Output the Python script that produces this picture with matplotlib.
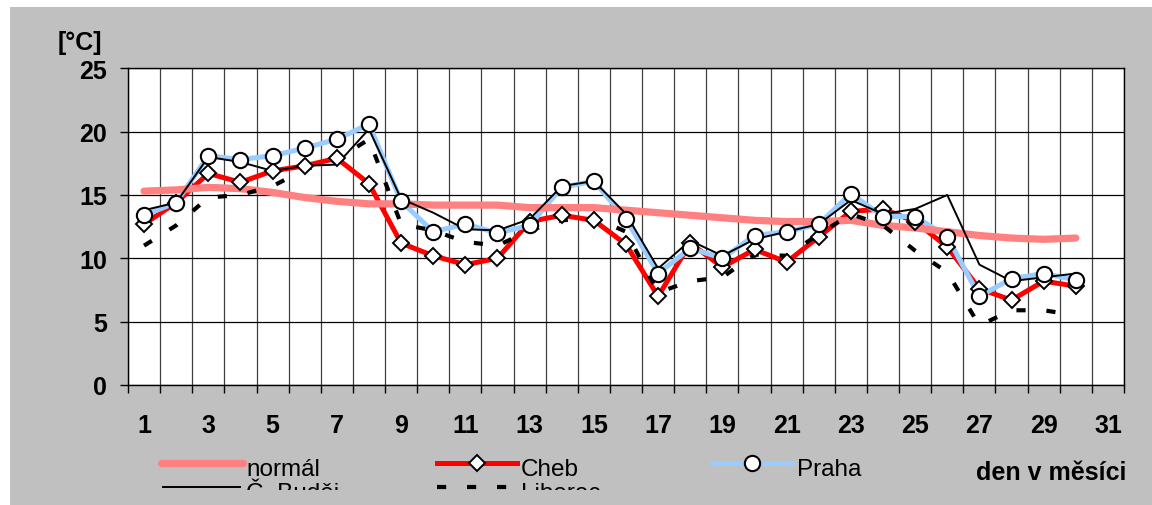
import matplotlib
matplotlib.use("Agg")
import matplotlib.pyplot as plt
from matplotlib.patches import Rectangle
from matplotlib.lines import Line2D

plt.rcParams['font.family'] = ['Liberation Sans', 'DejaVu Sans']

# ---------------- data ----------------
days = list(range(1, 31))
normal = [15.3, 15.4, 15.6, 15.5, 15.2, 14.8, 14.5, 14.3, 14.3, 14.2, 14.2, 14.2, 14.0, 14.0, 14.0,
          13.8, 13.6, 13.4, 13.2, 13.0, 12.9, 12.9, 13.0, 12.6, 12.4, 12.1, 11.8, 11.6, 11.5, 11.6]
cheb = [12.7, 14.4, 16.7, 16.0, 16.9, 17.3, 17.9, 15.9, 11.2, 10.2, 9.5, 10.0, 12.9, 13.4, 13.0,
        11.1, 7.0, 11.2, 9.3, 10.7, 9.7, 11.7, 13.7, 13.9, 12.9, 10.9, 7.6, 6.7, 8.2, 7.8]
praha = [13.4, 14.4, 18.1, 17.8, 18.1, 18.7, 19.4, 20.6, 14.5, 12.1, 12.7, 12.0, 12.6, 15.6, 16.1,
         13.1, 8.8, 10.8, 10.0, 11.8, 12.1, 12.7, 15.1, 13.3, 13.3, 11.7, 7.0, 8.4, 8.8, 8.3]
budejovice = [13.8, 14.4, 18.0, 17.6, 16.9, 17.3, 17.4, 20.2, 14.7, 13.6, 12.3, 12.2, 13.1, 15.7, 16.1,
              13.5, 9.2, 11.4, 10.2, 11.5, 12.1, 12.7, 14.6, 13.5, 13.9, 15.0, 9.5, 8.2, 8.5, 8.8]
liberec = [11.0, 12.6, 14.8, 15.0, 15.7, 17.0, 17.8, 19.4, 12.7, 12.2, 11.3, 11.0, 12.2, 13.0, 13.2,
           12.1, 7.3, 8.2, 8.5, 10.3, 10.2, 11.9, 13.5, 12.6, 10.6, 8.9, 4.7, 5.9, 5.9, 5.5]
series_names = ['normál', 'Cheb', 'Praha', 'Č. Budějovice', 'Liberec']
x_labels = [str(d) for d in range(1, 32, 2)]
y_ticks = [0, 5, 10, 15, 20, 25]
y_unit = '[°C]'
x_title = 'den v měsíci'

# ---------------- styles ----------------
C_NORMAL = '#FF8080'
C_CHEB = '#FF0000'
C_PRAHA = '#99CCFF'
C_BLACK = '#000000'
LIB_DASH = (0, (2.2, 5))
CIRC_MS = 11
DIAM_MS = 8.5

W, H = 1152, 506
fig = plt.figure(figsize=(W / 100, H / 100), dpi=100)
fig.patch.set_facecolor('white')
fig.patches.append(Rectangle((10 / W, 0), 1 - 10 / W, (H - 8) / H, transform=fig.transFigure,
                             facecolor='#C0C0C0', edgecolor='none', zorder=-10))

ax = fig.add_axes([128 / W, (H - 386) / H, (1124 - 128) / W, (386 - 69.3) / H])
ax.set_facecolor('white')
ax.set_xlim(0.5, 31.5)
ax.set_ylim(0, 25)

# grid
ax.set_yticks(y_ticks)
ax.set_yticklabels([str(v) for v in y_ticks], fontsize=18, fontweight='bold')
ax.set_xticks([k + 0.5 for k in range(0, 32)])
ax.set_xticklabels([])
ax.set_xticks(list(range(1, 32, 2)), minor=True)
ax.set_xticklabels(x_labels, minor=True, fontsize=18, fontweight='bold')
ax.tick_params(axis='y', direction='out', length=6, width=1, pad=9, colors='black')
ax.tick_params(axis='x', which='major', direction='out', length=5.5, width=1, colors='black')
ax.tick_params(axis='x', which='minor', length=0, pad=20)
ax.grid(True, which='major', axis='y', color='#000000', linewidth=0.9)
ax.grid(True, which='major', axis='x', color='#404040', linewidth=0.9)
ax.set_axisbelow(True)
for s in ax.spines.values():
    s.set_color('black')
    s.set_linewidth(1)

# series lines
ax.plot(days, cheb, color=C_CHEB, lw=3.6, zorder=2, solid_joinstyle='round')
ax.plot(days, praha, color=C_PRAHA, lw=3.6, zorder=2.1, solid_joinstyle='round')
ax.plot(days, normal, color=C_NORMAL, lw=5.2, zorder=2.5, solid_capstyle='round', solid_joinstyle='round')
ax.plot(days, budejovice, color=C_BLACK, lw=1.4, zorder=3)
ax.plot(days, liberec, color=C_BLACK, lw=3, linestyle=LIB_DASH, dash_capstyle='butt', zorder=3.5)
# markers
ax.plot(days, cheb, linestyle='none', marker='D', markersize=DIAM_MS, markerfacecolor='white',
        markeredgecolor='black', markeredgewidth=1.4, zorder=4)
ax.plot(days, praha, linestyle='none', marker='o', markersize=CIRC_MS, markerfacecolor='white',
        markeredgecolor='black', markeredgewidth=1.5, zorder=4.5)

fig.text(79.5 / W, 1 - 43 / H, y_unit, fontsize=18, fontweight='bold', ha='center', va='center')

# ---------------- legend (manual, clipped like the original) ----------------
lax = fig.add_axes([0, 0, 1, 1], zorder=5)
lax.set_xlim(0, W)
lax.set_ylim(H, 0)
lax.axis('off')
lax.patch.set_alpha(0)

clip_rows = Rectangle((0, 8), W, 491 - 8, transform=lax.transData, facecolor='none', edgecolor='none')
clip_bud = Rectangle((0, 8), 341, 491 - 8, transform=lax.transData, facecolor='none', edgecolor='none')

r1, r2 = 464.3, 488.3
lax.add_line(Line2D([161, 243], [r1, r1], color=C_NORMAL, lw=5.2, solid_capstyle='round'))
lax.add_line(Line2D([437, 517], [r1, r1], color=C_CHEB, lw=3.6))
lax.add_line(Line2D([477], [r1], linestyle='none', marker='D', markersize=DIAM_MS, markerfacecolor='white',
                    markeredgecolor='black', markeredgewidth=1.4))
lax.add_line(Line2D([712, 793], [r1, r1], color=C_PRAHA, lw=3.6))
lax.add_line(Line2D([752], [r1], linestyle='none', marker='o', markersize=CIRC_MS, markerfacecolor='white',
                    markeredgecolor='black', markeredgewidth=1.5))
lax.add_line(Line2D([163, 240], [r2, r2], color=C_BLACK, lw=1.4))
lax.add_line(Line2D([437, 517], [r2, r2], color=C_BLACK, lw=3, linestyle=LIB_DASH, dash_capstyle='butt'))

entries = [(246, 476, series_names[0], clip_rows), (521, 476, series_names[1], clip_rows),
           (797, 476, series_names[2], clip_rows), (246, 500, series_names[3], clip_bud),
           (521, 500, series_names[4], clip_rows)]
for tx, ty, label, cp in entries:
    t = lax.text(tx, ty, label, fontsize=17.5, ha='left', va='baseline', clip_on=True)
    t.set_clip_path(cp)

lax.text(976, 480, x_title, fontsize=18, fontweight='bold', ha='left', va='baseline')

fig.savefig('out.png', dpi=100)
